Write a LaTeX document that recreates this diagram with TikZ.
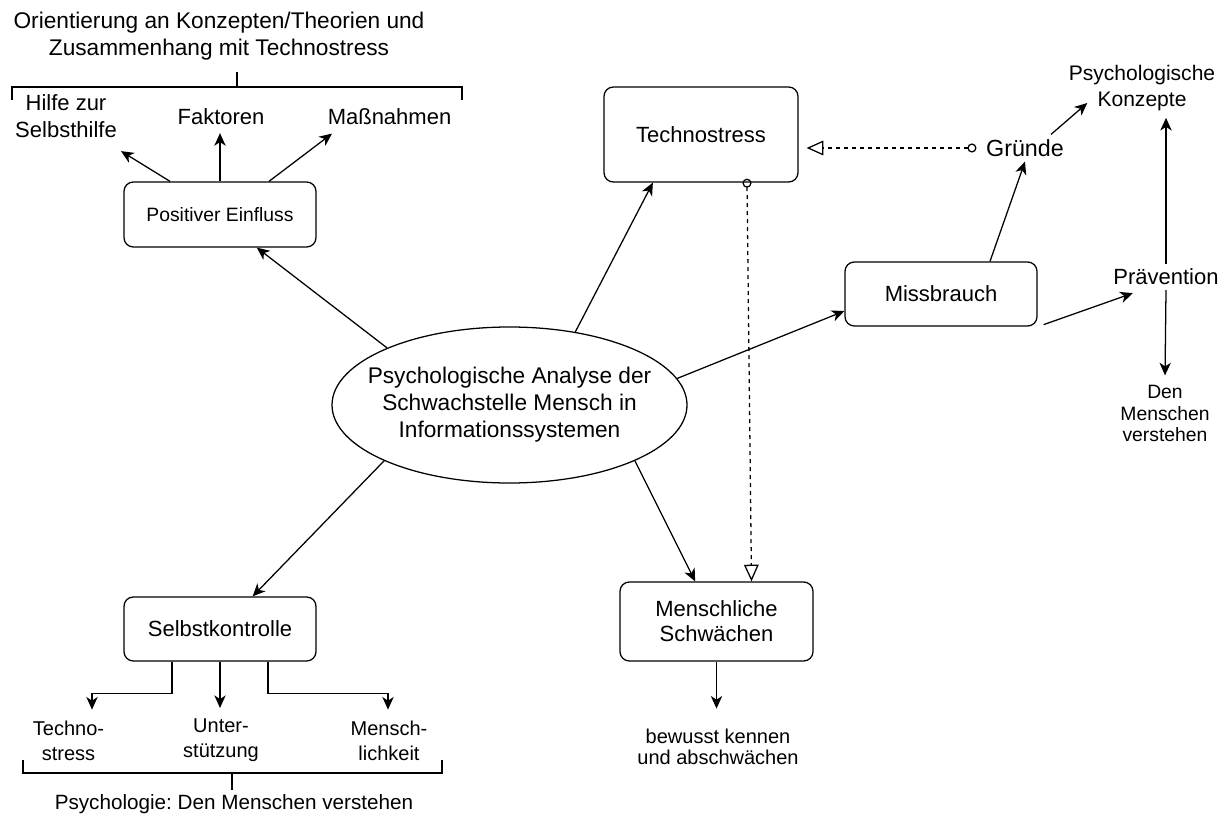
\documentclass[tikz,border=0pt]{standalone}
\usepackage{fontspec}
\setmainfont{Liberation Sans}
\usetikzlibrary{arrows.meta,shapes.geometric,calc}
\newcommand\fmain{\fontsize{16.5}{20.25}\selectfont}
\newcommand\fsmall{\fontsize{15}{18.75}\selectfont}
\begin{document}
\begin{tikzpicture}[x=0.75pt,y=-0.75pt,line width=0.95pt,
  box/.style={draw,rounded corners=7pt,align=center,inner sep=2pt,font=\fmain},
  lbl/.style={align=center,inner sep=3.3pt,font=\fmain},
  arr/.style={-{Stealth[length=9.5pt,width=8.5pt,inset=2.8pt]}},
  dep/.style={dash pattern=on 3pt off 3pt,{Circle[open,length=6.8pt]}-{Triangle[open,length=12.5pt,width=11pt]}},
  brace/.style={line width=1.6pt}]
\useasboundingbox (0,0) rectangle (1230,816);

% central ellipse
\node[draw,ellipse,minimum width=266.25pt,minimum height=117pt,inner sep=0pt] (ell) at (509.5,405) {};
\node[lbl,font=\fontsize{17}{20.25}\selectfont] (ellt) at (ell.center) {Psychologische Analyse der\\Schwachstelle Mensch in\\Informationssystemen};

% boxes
\node[box,minimum width=144pt,minimum height=48.75pt,font=\fontsize{14.5}{17}\selectfont] (pe) at (220,214.5) {Positiver Einfluss};
\node[box,minimum width=145.5pt,minimum height=71.25pt] (ts) at (701,134.5) {Technostress};
\node[box,minimum width=144pt,minimum height=48pt] (mb) at (941,294) {Missbrauch};
\node[box,minimum width=144.75pt,minimum height=59.25pt,font=\fontsize{16.5}{18.75}\selectfont] (ms) at (716.5,621.5) {Menschliche\\Schwächen};
\node[box,minimum width=144pt,minimum height=48pt] (sk) at (220,629) {Selbstkontrolle};

% text labels
\node[lbl,font=\fontsize{17}{20.25}\selectfont] (title) at (219,36) {Orientierung an Konzepten/Theorien und\\Zusammenhang mit Technostress};
\node[lbl] (hz) at (66,116.5) {Hilfe zur\\Selbsthilfe};
\node[lbl] (fk) at (221,117) {Faktoren};
\node[lbl] (mn) at (389.5,117) {Maßnahmen};
\node[lbl,font=\fontsize{17.5}{20}\selectfont,inner xsep=6.75pt] (gr) at (1025,148) {Gründe};
\node[lbl,font=\fontsize{15.8}{19.5}\selectfont] (pk) at (1142,88) {Psychologische\\Konzepte};
\node[lbl] (pv) at (1166,277) {Prävention};
\node[lbl,font=\fontsize{14.5}{16}\selectfont] (dm) at (1165,413.5) {Den\\Menschen\\verstehen};
\node[lbl,font=\fontsize{15}{15.75}\selectfont] (bk) at (718,746.5) {bewusst kennen\\und abschwächen};
\node[lbl,font=\fsmall] (tst) at (68.5,740.5) {Techno-\\stress};
\node[lbl,font=\fsmall] (ust) at (221,740.5) {Unter-\\stützung};
\node[lbl,font=\fsmall] (mst) at (389,740.5) {Mensch-\\lichkeit};
\node[lbl,font=\fontsize{15.5}{18}\selectfont] (psy) at (234,804) {Psychologie:\ Den Menschen verstehen};

% brackets
\draw[brace] (12,100) -- (12,87) -- (462,87) -- (462,100);
\draw[brace] (237,72) -- (237,87);
\draw[brace] (23,760) -- (23,773) -- (442,773) -- (442,760);
\draw[brace] (232,773) -- (232,790);

% arrows from positive influence
\draw[arr] ($(pe.north)+(-50,0)$) -- ($(hz.south)+(55,8)$);
\draw[arr] (pe.north) -- ($(pe.north |- fk.south)+(0,3)$);
\draw[arr] ($(pe.north)+(49,0)$) -- ($(mn.south)+(-57.5,3.5)$);

% arrows from ellipse
\draw[arr] (ell.155) -- (pe.-42);
\draw[arr] (ell.48) -- (ts.-135);
\draw[arr] (ell.9) -- (mb.190);
\draw[arr] (ell.204.5) -- (sk.45);
\draw[arr] (ell.-24.6) -- (ms.118);

% dashed dependencies
\draw[dep,shorten <=-3pt] ($(ts.south)+(46,0)$) -- ($(ms.north)+(35,0)$);
\draw[dep,shorten >=6pt] (gr.west) -- (gr.west -| ts.east);

% right part
\draw[arr] ($(mb.north)+(49,0)$) -- (gr.south);
\draw[arr] ($(gr.north)+(26,0)$) -- ($(pk.west)+(23.5,15)$);
\draw[arr] (pv.north) -- ($(pv.north |- pk.south)+(0,2)$);
\draw[arr] (pv.south) -- ($(dm.north)+(0,-5)$);
\draw[arr] ($(mb.south east)+(6,-2)$) -- ($(pv.south west)+(24.5,3)$);

% bottom
\draw[arr] (ms.south) -- ($(ms.south |- bk.north)+(0,-15)$);
\draw[arr] ($(sk.south)+(-48,0)$) -- ++(0,32) -| ($(tst.north)+(23.5,-6)$);
\draw[arr] (sk.south) -- ($(sk.south |- ust.north)+(0,-6)$);
\draw[arr] ($(sk.south)+(48,0)$) -- ++(0,32) -| ($(mst.north)+(-1,-6)$);
\end{tikzpicture}
\end{document}
